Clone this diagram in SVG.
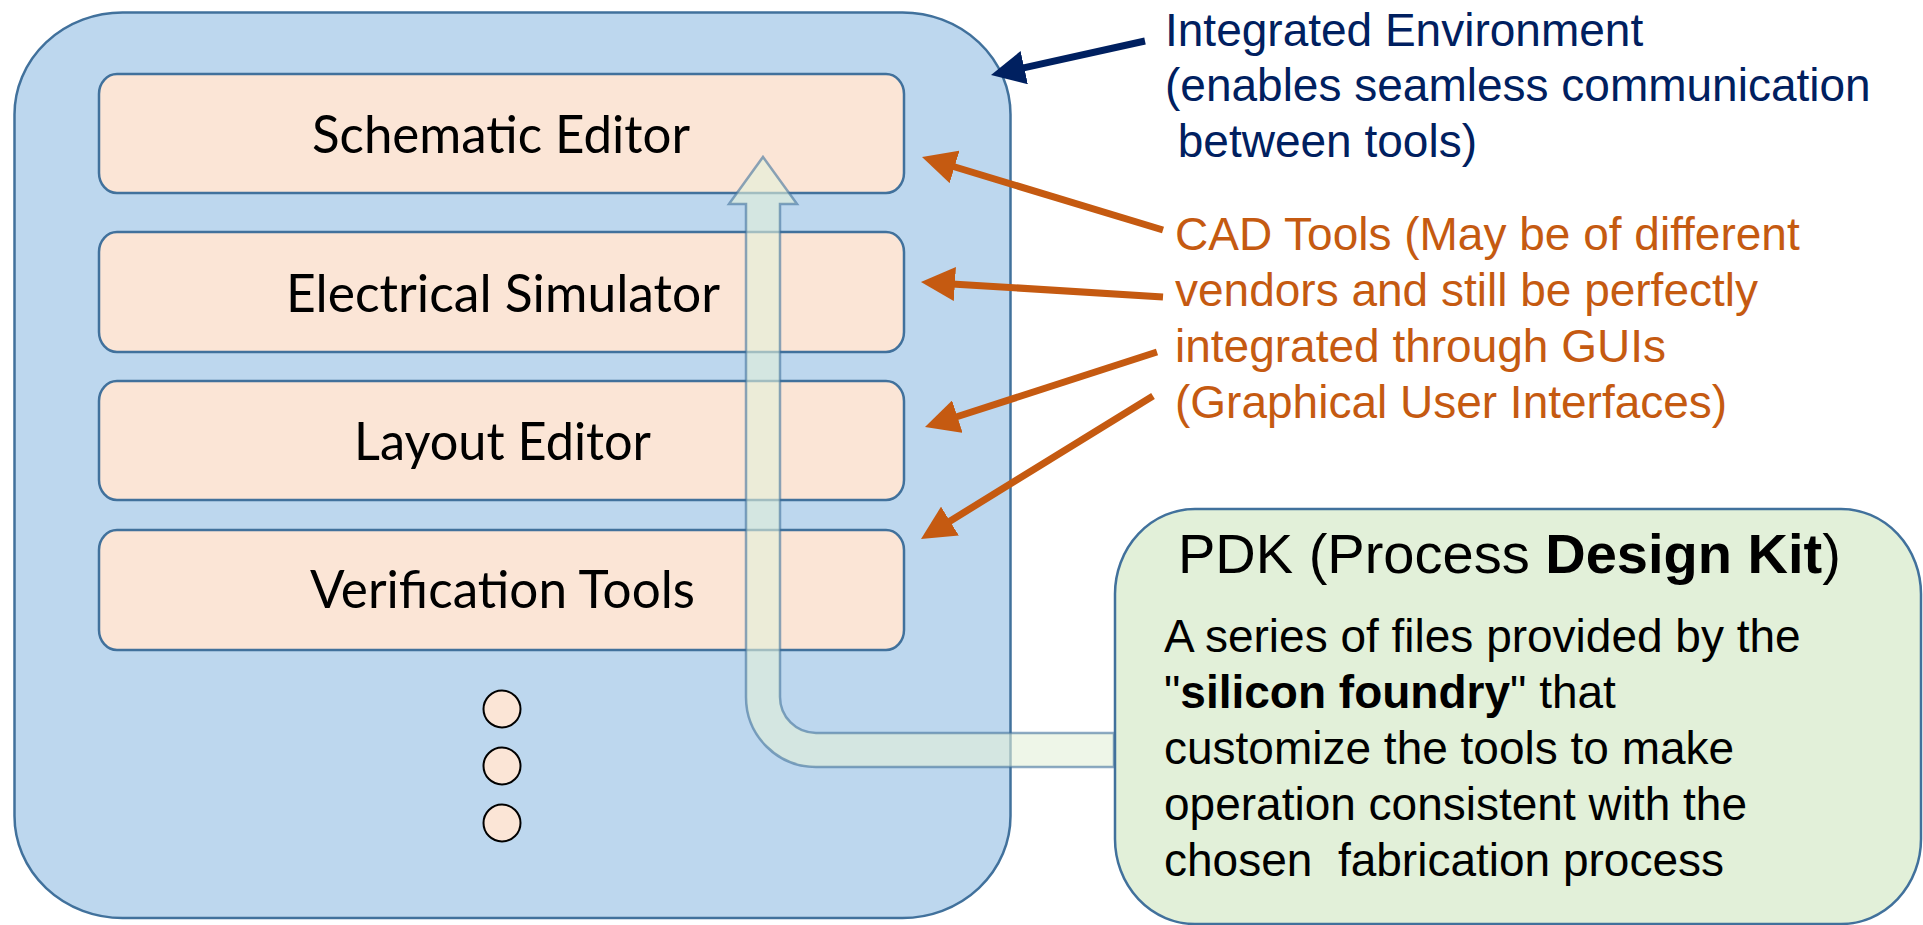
<svg xmlns="http://www.w3.org/2000/svg" width="1923" height="925" viewBox="0 0 1923 925">
  <style>
    .outer { fill: #BDD7EE; stroke: #41719C; stroke-width: 2.5; }
    .tool { fill: #FBE5D6; stroke: #41719C; stroke-width: 2.5; }
    .toolText { font-family: Lato, "Open Sans", sans-serif; font-size: 52px; fill: #000; }
    .dot { fill: #FBE5D6; stroke: #000; stroke-width: 2; }
    .pdk { fill: #E2F0D9; stroke: #41719C; stroke-width: 2.5; }
    .bent { fill: #E2F0D9; fill-opacity: 0.6; stroke: #41719C; stroke-opacity: 0.6; stroke-width: 2.5; }
    .ann { font-family: "Liberation Sans", Arial, sans-serif; font-size: 46px; }
    .navy { fill: #002060; }
    .orange { fill: #C55A11; }
    .pdkTitle { font-family: "Liberation Sans", Arial, sans-serif; font-size: 56px; fill: #000; }
    .pdkBody { font-family: "Liberation Sans", Arial, sans-serif; font-size: 46px; fill: #000; }
    .lnNavy { stroke: #002060; stroke-width: 7; fill: none; marker-end: url(#ahN); }
    .lnOrange { stroke: #C55A11; stroke-width: 7; fill: none; marker-end: url(#ahO); }
  </style>
  <defs>
    <marker id="ahN" viewBox="0 0 34 34" refX="3" refY="17" markerWidth="34" markerHeight="34" orient="auto" markerUnits="userSpaceOnUse">
      <path d="M0,0 L34,17 L0,34 Z" fill="#002060"/>
    </marker>
    <marker id="ahO" viewBox="0 0 34 34" refX="3" refY="17" markerWidth="34" markerHeight="34" orient="auto" markerUnits="userSpaceOnUse">
      <path d="M0,0 L34,17 L0,34 Z" fill="#C55A11"/>
    </marker>
  </defs>

  <g id="integrated-environment">
    <rect class="outer" x="14.5" y="12.5" width="996" height="905.5" rx="108" ry="102"/>
  </g>

  <g id="schematic-editor">
    <rect class="tool" x="99" y="74" width="805" height="119" rx="18" ry="20"/>
    <text class="toolText" x="312" y="153" textLength="378" lengthAdjust="spacingAndGlyphs">Schematic Editor</text>
  </g>
  <g id="electrical-simulator">
    <rect class="tool" x="99" y="232" width="805" height="120" rx="18" ry="20"/>
    <text class="toolText" x="286" y="312" textLength="434" lengthAdjust="spacingAndGlyphs">Electrical Simulator</text>
  </g>
  <g id="layout-editor">
    <rect class="tool" x="99" y="381" width="805" height="119" rx="18" ry="20"/>
    <text class="toolText" x="354" y="460" textLength="297" lengthAdjust="spacingAndGlyphs">Layout Editor</text>
  </g>
  <g id="verification-tools">
    <rect class="tool" x="99" y="530" width="805" height="120" rx="18" ry="20"/>
    <text class="toolText" x="310" y="608" textLength="385" lengthAdjust="spacingAndGlyphs">Verification Tools</text>
  </g>

  <g id="more-tools">
    <circle class="dot" cx="502" cy="709" r="18.5"/>
    <circle class="dot" cx="502" cy="766" r="18.5"/>
    <circle class="dot" cx="502" cy="823" r="18.5"/>
  </g>

  <g id="pdk-feed-arrow">
    <path class="bent" d="M763,157 L797,204 L780,204 L780,697 A36,36 0 0 0 816,733 L1114,733 L1114,767 L816,767 A70,70 0 0 1 746,697 L746,204 L729,204 Z"/>
  </g>

  <g id="pdk">
    <rect class="pdk" x="1115" y="509" width="806" height="415" rx="80" ry="85"/>
    <text class="pdkTitle" x="1178" y="573">PDK (Process <tspan font-weight="bold">Design Kit</tspan>)</text>
    <text class="pdkBody" x="1164" y="652">A series of files provided by the</text>
    <text class="pdkBody" x="1164" y="708">"<tspan font-weight="bold">silicon foundry</tspan>" that</text>
    <text class="pdkBody" x="1164" y="764">customize the tools to make</text>
    <text class="pdkBody" x="1164" y="820">operation consistent with the</text>
    <text class="pdkBody" x="1164" y="876" xml:space="preserve">chosen  fabrication process</text>
  </g>

  <g id="label-integrated-environment">
    <text class="ann navy" x="1165" y="46">Integrated Environment</text>
    <text class="ann navy" x="1165" y="101">(enables seamless communication</text>
    <text class="ann navy" x="1165" y="157" xml:space="preserve"> between tools)</text>
  </g>

  <g id="label-cad-tools">
    <text class="ann orange" x="1175" y="250">CAD Tools (May be of different</text>
    <text class="ann orange" x="1175" y="306">vendors and still be perfectly</text>
    <text class="ann orange" x="1175" y="362">integrated through GUIs</text>
    <text class="ann orange" x="1175" y="418">(Graphical User Interfaces)</text>
  </g>

  <g id="connectors">
    <line class="lnNavy" x1="1145" y1="41" x2="1021.3" y2="68.3"/>
    <line class="lnOrange" x1="1163" y1="230" x2="951.7" y2="166"/>
    <line class="lnOrange" x1="1163" y1="297" x2="951.9" y2="283.9"/>
    <line class="lnOrange" x1="1157" y1="352" x2="954.5" y2="417.5"/>
    <line class="lnOrange" x1="1153" y1="396" x2="947.4" y2="522.7"/>
  </g>
</svg>
